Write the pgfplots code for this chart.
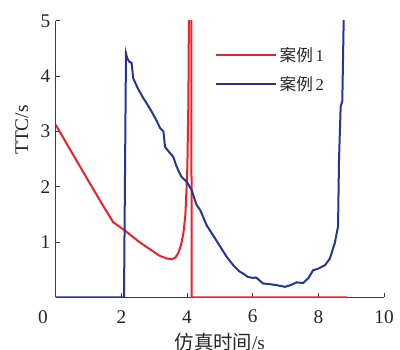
\documentclass[border=0pt]{standalone}
\usepackage{fontspec}
\setmainfont{Liberation Serif}
\newfontfamily\cjk{Noto Sans CJK SC}
\usepackage{pgfplots}
\pgfplotsset{compat=1.18}
\definecolor{cred}{RGB}{236,32,40}
\definecolor{cblue}{RGB}{38,52,150}
\definecolor{axgray}{RGB}{60,60,60}
\begin{document}
\begin{tikzpicture}
\begin{axis}[
  at={(0pt,0pt)}, anchor=south west,
  scale only axis, width=246.2pt, height=207.4pt,
  xmin=0, xmax=10, ymin=0, ymax=5,
  axis x line*=bottom, axis y line*=left,
  axis line style={axgray, line width=0.8pt},
  tick style={axgray, line width=0.6pt},
  tick align=inside, major tick length=3pt,
  xtick={2,4,6,8,10}, ytick={1,2,3,4,5},
  extra x ticks={0},
  extra x tick style={major tick length=0pt, xticklabel style={xshift=-9.5pt}},
  /pgf/number format/assume math mode=true,
  tick label style={font=\fontsize{14.5}{16}\selectfont, text=black!85},
  xticklabel style={anchor=center, yshift=-14.5pt},
  yticklabel style={anchor=east, xshift=-0.5pt},
  xlabel={{\cjk 仿真时间}/s},
  ylabel={TTC/s},
  label style={font=\fontsize{14.5}{16}\selectfont, text=black!85},
  xlabel style={at={(axis description cs:0.5,-0.1615)}, anchor=center},
  ylabel style={at={(axis description cs:-0.1036,0.605)}, anchor=center},
  clip=true,
  legend style={at={(axis cs:4.72,4.62)}, anchor=north west, draw=none, fill=none,
    font=\fontsize{12.5}{14}\selectfont, text=black!85, row sep=5.5pt},
  legend cell align=left,
  legend image code/.code={\draw[#1] (0pt,0pt) -- (45pt,0pt);},
]
\addplot[cred, line width=1.5pt] coordinates {
(0,3.12) (0.44,2.67) (1.0,2.1) (1.5,1.6) (1.75,1.36) (2.1,1.21) (2.57,0.99)
(3.17,0.75) (3.4,0.70) (3.53,0.69) (3.65,0.72) (3.73,0.80) (3.82,0.95)
(3.89,1.16) (3.95,1.5) (3.97,1.76) (4.01,2.36) (4.04,3.5) (4.06,5.3)
(4.13,5.3) (4.14,0) (8.88,0)
};
\addlegendentry{{\cjk 案例}\,1}
\addplot[cblue, line width=1.5pt] coordinates {
(0,0) (2.08,0) (2.14,4.41) (2.18,4.32) (2.24,4.26) (2.31,4.24) (2.36,3.96)
(2.5,3.78) (2.67,3.60) (2.8,3.48) (2.92,3.36) (3.05,3.22) (3.18,3.06) (3.28,3.0)
(3.33,2.72) (3.45,2.63) (3.58,2.54) (3.66,2.40) (3.73,2.30) (3.83,2.18) (3.99,2.09)
(4.14,1.94) (4.29,1.67) (4.4,1.58) (4.6,1.30) (4.85,1.07) (5.05,0.88)
(5.21,0.73) (5.41,0.58) (5.59,0.47) (5.71,0.43) (5.85,0.37) (6.01,0.35)
(6.1,0.36) (6.32,0.25) (6.5,0.24) (6.73,0.22) (6.98,0.19) (7.15,0.22)
(7.34,0.27) (7.54,0.26) (7.7,0.35) (7.84,0.49) (8.0,0.52) (8.2,0.58)
(8.35,0.70) (8.5,0.98) (8.6,1.28) (8.63,2.5) (8.68,3.45) (8.73,3.55) (8.78,5.3)
};
\addlegendentry{{\cjk 案例}\,2}
\end{axis}
\pgfresetboundingbox
\useasboundingbox (-41.8pt,-39.5pt) rectangle (258.2pt,223pt);
\end{tikzpicture}
\end{document}
